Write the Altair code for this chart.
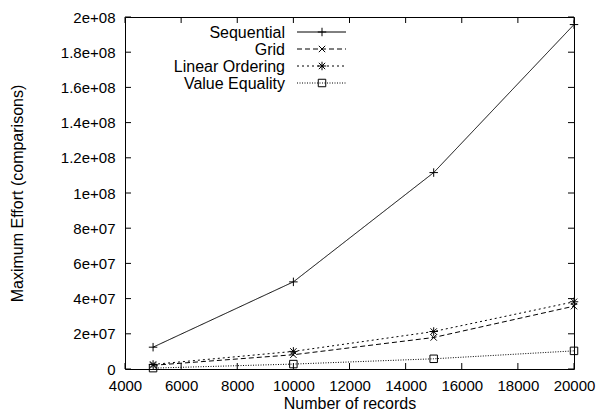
import altair as alt
import pandas as pd

records = [5000, 10000, 15000, 20000]
series_names = ["Sequential", "Grid", "Linear Ordering", "Value Equality"]
sequential = [1.24e7, 4.95e7, 1.116e8, 1.957e8]
grid = [2.1e6, 8.1e6, 1.79e7, 3.57e7]
linear_ordering = [2.6e6, 1.0e7, 2.13e7, 3.82e7]
value_equality = [5e5, 2.8e6, 5.8e6, 1.03e7]

x_ticks = [4000, 6000, 8000, 10000, 12000, 14000, 16000, 18000, 20000]
y_ticks = [0, 2e7, 4e7, 6e7, 8e7, 1e8, 1.2e8, 1.4e8, 1.6e8, 1.8e8, 2e8]
y_tick_labels = ["0", "2e+07", "4e+07", "6e+07", "8e+07", "1e+08",
                 "1.2e+08", "1.4e+08", "1.6e+08", "1.8e+08", "2e+08"]

W, H = 449, 352
LEFT = 117
FONT = "Liberation Sans"
FS = 16
TFS = 15

values = [sequential, grid, linear_ordering, value_equality]
shapes = ["M-1,0L1,0M0,-1L0,1",
          "M-0.75,-0.75L0.75,0.75M-0.75,0.75L0.75,-0.75",
          "M-1,0L1,0M0,-1L0,1M-0.75,-0.75L0.75,0.75M-0.75,0.75L0.75,-0.75",
          "square"]
sizes = [72, 72, 72, 56]
dashes = [[1, 0], [5, 3], [2, 3], [1, 1.5]]

rows = []
for name, vals in zip(series_names, values):
    for r, v in zip(records, vals):
        rows.append({"series": name, "records": r, "effort": v})
df = pd.DataFrame(rows)

label_expr = "''"
for v, lab in zip(reversed(y_ticks), reversed(y_tick_labels)):
    label_expr = f"datum.value == {v:.0f} ? '{lab}' : ({label_expr})"

xscale = alt.Scale(domain=[4000, 20000], nice=False, zero=False)
yscale = alt.Scale(domain=[0, 2e8], nice=False)

xaxis = alt.Axis(values=x_ticks, ticks=False, domain=False, grid=False,
                 labelPadding=9, format="d", labelFlush=False, labelOverlap=False,
                 titleY=39, titleBaseline="alphabetic")
yaxis = alt.Axis(values=y_ticks, ticks=False, domain=False, grid=False,
                 labelPadding=10, labelExpr=label_expr, labelFlush=False,
                 labelOverlap=False, titleX=17 - (LEFT + 8), titleY=H / 2,
                 titleBaseline="middle")
XT = "Number of records"
YT = "Maximum Effort (comparisons)"


def X(field):
    return alt.X(field, scale=xscale, axis=xaxis, title=XT)


def Y(field):
    return alt.Y(field, scale=yscale, axis=yaxis, title=YT)


layers = []
for i, name in enumerate(series_names):
    base = alt.Chart(df).transform_filter(alt.datum.series == name)
    line = base.mark_line(color="black", strokeWidth=1, strokeDash=dashes[i]).encode(
        x=X("records:Q"), y=Y("effort:Q"))
    pts = base.mark_point(shape=shapes[i], size=sizes[i], filled=False, stroke="black",
                          strokeWidth=1, opacity=1).encode(
        x=X("records:Q"), y=Y("effort:Q"))
    layers += [line, pts]

# inward ticks on all four sides
xt = pd.DataFrame({"v": x_ticks})
yt = pd.DataFrame({"v": y_ticks})
TL = 6
for y0, y1 in [(H, H - TL), (0, TL)]:
    layers.append(alt.Chart(xt).mark_rule(color="black", strokeWidth=1).encode(
        x=X("v:Q"), y=alt.value(y0), y2=alt.value(y1)))
for x0, x1 in [(0, TL), (W, W - TL)]:
    layers.append(alt.Chart(yt).mark_rule(color="black", strokeWidth=1).encode(
        y=Y("v:Q"), x=alt.value(x0), x2=alt.value(x1)))

# key (top-left, labels before samples)
line_y = [15, 32, 49, 66]
text_y = [21, 38, 55, 72]
for i, name in enumerate(series_names):
    one = pd.DataFrame({"s": [name]})
    layers.append(alt.Chart(one).mark_text(align="right", baseline="alphabetic", font=FONT,
                                           fontSize=FS, color="black").encode(
        text="s:N", x=alt.value(160), y=alt.value(text_y[i])))
    layers.append(alt.Chart(one).mark_rule(color="black", strokeWidth=1,
                                           strokeDash=dashes[i]).encode(
        x=alt.value(172), x2=alt.value(221), y=alt.value(line_y[i])))
    layers.append(alt.Chart(one).mark_point(shape=shapes[i], size=sizes[i], filled=False,
                                            stroke="black", strokeWidth=1, opacity=1).encode(
        x=alt.value(197), y=alt.value(line_y[i])))

chart = alt.layer(*layers).properties(
    width=W, height=H,
    autosize=alt.AutoSizeParams(type="none"),
    padding={"left": LEFT, "top": 9, "right": 588 - LEFT - W, "bottom": 43},
).configure(background="white").configure_view(
    stroke="black", strokeWidth=1
).configure_axis(
    labelFont=FONT, titleFont=FONT, labelFontSize=TFS, titleFontSize=FS,
    labelColor="black", titleColor="black", titleFontWeight="normal"
)

chart.save("out.html", embed_options={"renderer": "svg", "actions": False})
